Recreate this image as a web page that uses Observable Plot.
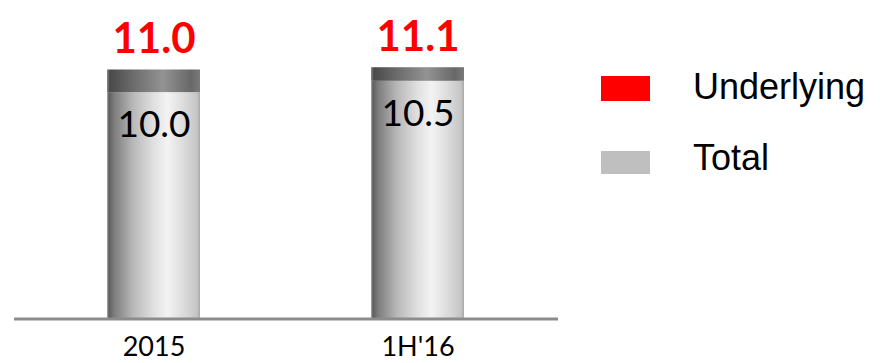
<!DOCTYPE html>
<html>
<head>
<meta charset="utf-8">
<script src="https://cdn.jsdelivr.net/npm/d3@7"></script>
<script src="https://cdn.jsdelivr.net/npm/@observablehq/plot@0.6"></script>
<style>
  html, body { margin: 0; padding: 0; background: #fff; }
  #wrap { position: relative; width: 880px; height: 363px; overflow: hidden; }
  #legend { position: absolute; left: 0; top: 0; width: 880px; height: 363px; pointer-events: none; font-family: "Liberation Sans", Arial, sans-serif; }
  .sw { position: absolute; left: 601px; width: 49px; }
  .lab { position: absolute; left: 693px; font-size: 36px; line-height: 36px; color: #000; white-space: nowrap; }
</style>
</head>
<body>
<div id="wrap"></div>
<script>
const categories = ["2015", "1H'16"];
const totalValues = [10.0, 10.5];
const underlyingValues = [11.0, 11.1];
const legendLabels = ["Underlying", "Total"];
const legendColors = ["#ff0000", "#bfbfbf"];

const data = categories.map((c, i) => ({period: c, total: totalValues[i], underlying: underlyingValues[i]}));

const chart = Plot.plot({
  width: 880,
  height: 363,
  marginTop: 0,
  marginBottom: 44.5,
  marginLeft: 14,
  marginRight: 322,
  style: {fontFamily: "Lato, 'Open Sans', sans-serif", background: "#fff", color: "#000"},
  x: {domain: categories, paddingInner: 0.646, paddingOuter: 0.35, label: null},
  y: {domain: [0, 14.07], axis: null},
  marks: [
    Plot.barY(data, {x: "period", y1: 0, y2: "total", fill: "url(#bodyGrad)"}),
    Plot.barY(data, {x: "period", y1: "total", y2: "underlying", fill: "url(#capGrad)"}),
    Plot.ruleY([0], {stroke: "#8c8c8c", strokeWidth: 3}),
    Plot.axisX({tickSize: 0, tickPadding: 18, fontSize: 27, fill: "#000", label: null}),
    Plot.text(data, {x: "period", y: "underlying", text: d => d.underlying.toFixed(1), fill: "#ff0000", fontWeight: "bold", fontSize: 42, lineAnchor: "bottom", dy: -17}),
    Plot.text(data, {x: "period", y: "total", text: d => d.total.toFixed(1), fill: "#000", fontSize: 37, lineAnchor: "top", dy: 18})
  ]
});

const svg = d3.select(chart);
const defs = svg.insert("defs", ":first-child");
function grad(id, stops) {
  const g = defs.append("linearGradient").attr("id", id).attr("x1", "0").attr("x2", "1").attr("y1", "0").attr("y2", "0");
  stops.forEach(([o, c]) => g.append("stop").attr("offset", o).attr("stop-color", c));
}
grad("bodyGrad", [["0", "#b0b0b0"], ["0.02", "#5e5e5e"], ["0.08", "#7e7e7e"], ["0.28", "#b8b8b8"], ["0.50", "#e0e0e0"], ["0.65", "#f3f3f3"], ["0.85", "#d8d8d8"], ["0.97", "#c4c4c4"], ["1", "#a8a8a8"]]);
grad("capGrad", [["0", "#8a8a8a"], ["0.03", "#4a4a4a"], ["0.30", "#6e6e6e"], ["0.60", "#939393"], ["0.90", "#686868"], ["1", "#7a7a7a"]]);

document.getElementById("wrap").appendChild(chart);

const legend = document.createElement("div");
legend.id = "legend";
const swTops = [76, 151];
const swHeights = [25, 23];
const labTops = [69, 140];
legendLabels.forEach((l, i) => {
  const sw = document.createElement("div");
  sw.className = "sw";
  sw.style.top = swTops[i] + "px";
  sw.style.height = swHeights[i] + "px";
  sw.style.background = legendColors[i];
  legend.appendChild(sw);
  const t = document.createElement("div");
  t.className = "lab";
  t.style.top = labTops[i] + "px";
  t.textContent = l;
  legend.appendChild(t);
});
document.getElementById("wrap").appendChild(legend);
</script>
</body>
</html>
